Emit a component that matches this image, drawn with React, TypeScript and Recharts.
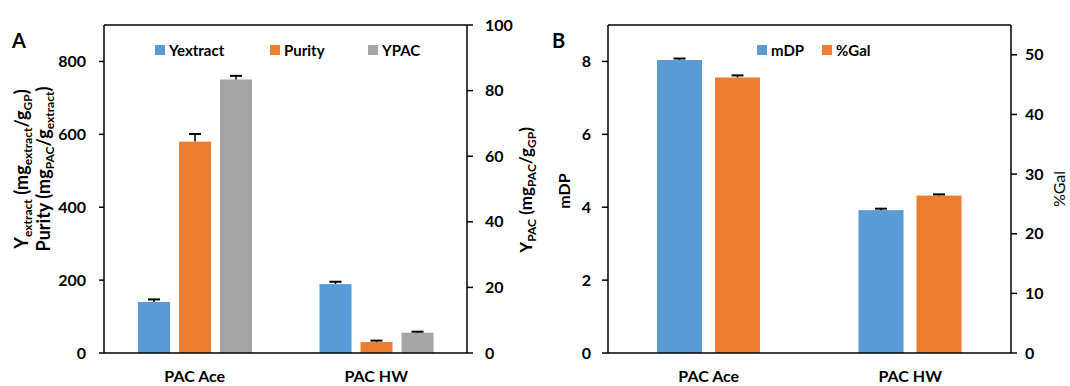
import React from "react";
import {
  ComposedChart,
  Bar,
  XAxis,
  YAxis,
  Legend,
  ReferenceLine,
} from "recharts";

// ---------- data ----------
const CATEGORIES = ["PAC Ace", "PAC HW"];

const YEXTRACT = [140, 189];
const YEXTRACT_ERR = [7, 6.5];
const PURITY = [580, 30];
const PURITY_ERR = [21, 4];
const YPAC = [83.4, 6.2];
const YPAC_ERR = [1.1, 0.3];

const MDP = [8.04, 3.92];
const MDP_ERR = [0.04, 0.04];
const GAL = [46.2, 26.4];
const GAL_ERR = [0.35, 0.2];

const TICKS_A_LEFT = [0, 200, 400, 600, 800];
const TICKS_A_RIGHT = [0, 20, 40, 60, 80, 100];
const TICKS_B_LEFT = [0, 2, 4, 6, 8];
const TICKS_B_RIGHT = [0, 10, 20, 30, 40, 50];

const SERIES_A = ["Yextract", "Purity", "YPAC"];
const SERIES_B = ["mDP", "%Gal"];

const dataA = CATEGORIES.map((c, i) => ({
  name: c,
  yextract: YEXTRACT[i],
  yextractErr: YEXTRACT_ERR[i],
  purity: PURITY[i],
  purityErr: PURITY_ERR[i],
  ypac: YPAC[i],
  ypacErr: YPAC_ERR[i],
}));

const dataB = CATEGORIES.map((c, i) => ({
  name: c,
  mdp: MDP[i],
  mdpErr: MDP_ERR[i],
  gal: GAL[i],
  galErr: GAL_ERR[i],
}));

const BLUE = "#5B9BD5";
const ORANGE = "#ED7D31";
const GRAY = "#A5A5A5";
const COLORS_A = [BLUE, ORANGE, GRAY];
const COLORS_B = [BLUE, ORANGE];
const FONT = "Lato, 'Open Sans', sans-serif";

// bar with an upward-only error bar, scaled from the bar's own pixel height
const makeShape = (valueKey: string, errKey: string) => (props: any) => {
  const { x, y, width, height, fill, payload } = props;
  const v = payload[valueKey];
  const e = payload[errKey];
  const k = v ? height / v : 0;
  const top = y - e * k;
  const cx = x + width / 2;
  return (
    <g>
      <rect x={x} y={y} width={width} height={height} fill={fill} />
      <line x1={cx} x2={cx} y1={y} y2={top} stroke="#000" strokeWidth={1.5} />
      <line x1={cx - 6} x2={cx + 6} y1={top} y2={top} stroke="#000" strokeWidth={2} />
    </g>
  );
};

const tickStyle = { fill: "#000", fontSize: 16, fontWeight: 700, fontFamily: FONT };

const LegendContent = (names: string[], colors: string[], widths: number[]) => () => (
  <div style={{ display: "flex", alignItems: "center", height: 20 }}>
    {names.map((n, i) => (
      <div
        key={n}
        style={{
          display: "flex",
          alignItems: "center",
          width: widths[i],
          fontSize: 15,
          fontWeight: 700,
          color: "#000",
          fontFamily: FONT,
        }}
      >
        <span
          style={{
            display: "inline-block",
            width: 10,
            height: 10,
            background: colors[i],
            marginRight: 4,
          }}
        />
        <span>{n}</span>
      </div>
    ))}
  </div>
);

const LeftLabelA = (props: any) => {
  const vb = props.viewBox || { x: 0, y: 25 };
  const cy = 169;
  const x1 = vb.x + 28;
  const x2 = vb.x + 50;
  const sub = { fontSize: 12 };
  return (
    <g fontFamily={FONT} fontWeight={700} fill="#000">
      <text x={x1} y={cy} fontSize={18} textAnchor="middle" transform={`rotate(-90, ${x1}, ${cy})`}>
        Y<tspan {...sub} dy={4}>extract</tspan>
        <tspan dy={-4}> (mg</tspan>
        <tspan {...sub} dy={4}>extract</tspan>
        <tspan dy={-4}>/g</tspan>
        <tspan {...sub} dy={4}>GP</tspan>
        <tspan dy={-4}>)</tspan>
      </text>
      <text x={x2} y={cy} fontSize={18} textAnchor="middle" transform={`rotate(-90, ${x2}, ${cy})`}>
        Purity (mg<tspan {...sub} dy={4}>PAC</tspan>
        <tspan dy={-4}>/g</tspan>
        <tspan {...sub} dy={4}>extract</tspan>
        <tspan dy={-4}>)</tspan>
      </text>
    </g>
  );
};

const RightLabelA = (props: any) => {
  const vb = props.viewBox || { x: 467, y: 25 };
  const cy = 190;
  const x = vb.x + 65;
  const sub = { fontSize: 12 };
  return (
    <text
      x={x}
      y={cy}
      fontSize={17}
      fontWeight={700}
      fontFamily={FONT}
      fill="#000"
      textAnchor="middle"
      transform={`rotate(-90, ${x}, ${cy})`}
    >
      Y<tspan {...sub} dy={4}>PAC</tspan>
      <tspan dy={-4}> (mg</tspan>
      <tspan {...sub} dy={4}>PAC</tspan>
      <tspan dy={-4}>/g</tspan>
      <tspan {...sub} dy={4}>GP</tspan>
      <tspan dy={-4}>)</tspan>
    </text>
  );
};

const SimpleLabel = (text: string, dx: number, cy: number, weight: number) => (props: any) => {
  const vb = props.viewBox || { x: 0 };
  const x = vb.x + dx;
  return (
    <text
      x={x}
      y={cy}
      fontSize={16}
      fontWeight={weight}
      fontFamily={FONT}
      fill="#000"
      textAnchor="middle"
      transform={`rotate(-90, ${x}, ${cy})`}
    >
      {text}
    </text>
  );
};

export default function App() {
  return (
    <div
      style={{
        position: "absolute",
        left: 0,
        top: 0,
        width: 1070,
        height: 386,
        background: "#fff",
        fontFamily: FONT,
      }}
    >
      {/* Panel A */}
      <div style={{ position: "absolute", left: 0, top: 0 }}>
        <ComposedChart
          width={540}
          height={386}
          data={dataA}
          margin={{ top: 25, right: 0, bottom: 0, left: 0 }}
          barSize={32}
          barGap={9}
        >
          <XAxis
            dataKey="name"
            xAxisId="x"
            height={33}
            tickLine={false}
            tickMargin={12}
            axisLine={{ stroke: "#000", strokeWidth: 1.5 }}
            tick={tickStyle}
          />
          <YAxis
            yAxisId="left"
            orientation="left"
            width={104}
            domain={[0, 900]}
            ticks={TICKS_A_LEFT}
            tickSize={5}
            tickMargin={13}
            axisLine={{ stroke: "#000", strokeWidth: 1.5 }}
            tickLine={{ stroke: "#000", strokeWidth: 1.5 }}
            tick={tickStyle}
            label={<LeftLabelA />}
          />
          <YAxis
            yAxisId="right"
            orientation="right"
            width={73}
            domain={[0, 100]}
            ticks={TICKS_A_RIGHT}
            tickSize={6}
            tickMargin={12}
            axisLine={{ stroke: "#000", strokeWidth: 1.5 }}
            tickLine={{ stroke: "#000", strokeWidth: 1.5 }}
            tick={tickStyle}
            label={<RightLabelA />}
          />
          <ReferenceLine yAxisId="left" xAxisId="x" y={900} stroke="#000" strokeWidth={1.5} />
          <Legend
            layout="vertical"
            align="center"
            verticalAlign="middle"
            content={LegendContent(SERIES_A, COLORS_A, [115, 98, 70])}
            wrapperStyle={{ top: 40, left: 155, width: 300 }}
          />
          <Bar
            xAxisId="x"
            yAxisId="left"
            dataKey="yextract"
            name={SERIES_A[0]}
            fill={BLUE}
            isAnimationActive={false}
            shape={makeShape("yextract", "yextractErr")}
          />
          <Bar
            xAxisId="x"
            yAxisId="left"
            dataKey="purity"
            name={SERIES_A[1]}
            fill={ORANGE}
            isAnimationActive={false}
            shape={makeShape("purity", "purityErr")}
          />
          <Bar
            xAxisId="x"
            yAxisId="right"
            dataKey="ypac"
            name={SERIES_A[2]}
            fill={GRAY}
            isAnimationActive={false}
            shape={makeShape("ypac", "ypacErr")}
          />
        </ComposedChart>
      </div>

      {/* Panel B */}
      <div style={{ position: "absolute", left: 545, top: 0 }}>
        <ComposedChart
          width={525}
          height={386}
          data={dataB}
          margin={{ top: 25, right: 0, bottom: 0, left: 0 }}
          barSize={45}
          barGap={13}
        >
          <XAxis
            dataKey="name"
            xAxisId="x"
            height={33}
            tickLine={false}
            tickMargin={12}
            axisLine={{ stroke: "#000", strokeWidth: 1.5 }}
            tick={tickStyle}
          />
          <YAxis
            yAxisId="left"
            orientation="left"
            width={63}
            domain={[0, 9]}
            ticks={TICKS_B_LEFT}
            tickSize={6}
            tickMargin={11}
            axisLine={{ stroke: "#000", strokeWidth: 1.5 }}
            tickLine={{ stroke: "#000", strokeWidth: 1.5 }}
            tick={tickStyle}
            label={{ content: SimpleLabel("mDP", 25, 191, 700) }}
          />
          <YAxis
            yAxisId="right"
            orientation="right"
            width={59}
            domain={[0, 55]}
            ticks={TICKS_B_RIGHT}
            tickSize={6}
            tickMargin={8}
            axisLine={{ stroke: "#000", strokeWidth: 1.5 }}
            tickLine={{ stroke: "#000", strokeWidth: 1.5 }}
            tick={tickStyle}
            label={{ content: SimpleLabel("%Gal", 54, 189, 400) }}
          />
          <ReferenceLine yAxisId="left" xAxisId="x" y={9} stroke="#000" strokeWidth={1.5} />
          <Legend
            layout="vertical"
            align="center"
            verticalAlign="middle"
            content={LegendContent(SERIES_B, COLORS_B, [65, 70])}
            wrapperStyle={{ top: 40, left: 212, width: 200 }}
          />
          <Bar
            xAxisId="x"
            yAxisId="left"
            dataKey="mdp"
            name={SERIES_B[0]}
            fill={BLUE}
            isAnimationActive={false}
            shape={makeShape("mdp", "mdpErr")}
          />
          <Bar
            xAxisId="x"
            yAxisId="right"
            dataKey="gal"
            name={SERIES_B[1]}
            fill={ORANGE}
            isAnimationActive={false}
            shape={makeShape("gal", "galErr")}
          />
        </ComposedChart>
      </div>

      {/* panel letters */}
      <svg
        width={1070}
        height={386}
        style={{ position: "absolute", left: 0, top: 0, pointerEvents: "none" }}
      >
        <text x={12} y={48} fontSize={20} fontWeight={700} fontFamily={FONT} fill="#000">
          A
        </text>
        <text x={552} y={48} fontSize={20} fontWeight={700} fontFamily={FONT} fill="#000">
          B
        </text>
      </svg>
    </div>
  );
}
